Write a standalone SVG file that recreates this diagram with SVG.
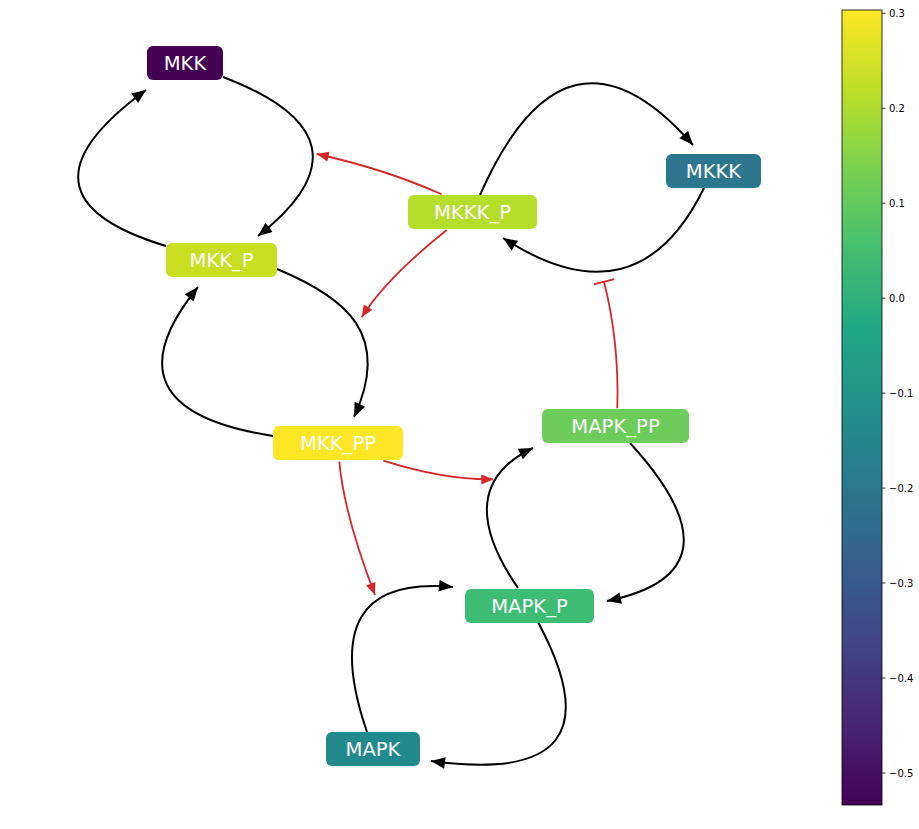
<svg xmlns="http://www.w3.org/2000/svg" width="919" height="829" viewBox="0 0 919 829">
<style>
.e{fill:none;stroke:#000;stroke-width:2}
.r{fill:none;stroke:#d62728;stroke-width:1.8}
.nt{font-family:"DejaVu Sans",sans-serif;font-size:19.6px;fill:#fff;text-anchor:middle}
.tk{font-family:"DejaVu Sans",sans-serif;font-size:10px;fill:#000}
.tl{stroke:#000;stroke-width:0.8}
</style>
<defs>
<marker id="ab" markerUnits="userSpaceOnUse" markerWidth="16" markerHeight="14" refX="14" refY="6" orient="auto" overflow="visible"><path d="M0,0.2 L14,6 L0,11.8 z" fill="#000"/></marker>
<marker id="ar" markerUnits="userSpaceOnUse" markerWidth="14" markerHeight="12" refX="12" refY="5" orient="auto" overflow="visible"><path d="M0,0 L12,5 L0,10 z" fill="#d62728"/></marker>
<linearGradient id="vir" x1="0" y1="1" x2="0" y2="0">
<stop offset="0" stop-color="#440154"/>
<stop offset="0.1" stop-color="#482475"/>
<stop offset="0.2" stop-color="#414487"/>
<stop offset="0.3" stop-color="#355f8d"/>
<stop offset="0.4" stop-color="#2a788e"/>
<stop offset="0.5" stop-color="#21918c"/>
<stop offset="0.6" stop-color="#22a884"/>
<stop offset="0.7" stop-color="#44bf70"/>
<stop offset="0.8" stop-color="#7ad151"/>
<stop offset="0.9" stop-color="#bddf26"/>
<stop offset="1" stop-color="#fde725"/>
</linearGradient>
</defs>
<rect width="919" height="829" fill="#fff"/>
<g id="edges">
<path class="e" d="M223,77 Q383,138 258,236" marker-end="url(#ab)"/>
<path class="e" d="M166,246 Q1,196 146,90" marker-end="url(#ab)"/>
<path class="e" d="M277,269 C347,298 392,335 354,417" marker-end="url(#ab)"/>
<path class="e" d="M273,436 Q99,409 198,287" marker-end="url(#ab)"/>
<path class="e" d="M480,195 Q566,0 693,145" marker-end="url(#ab)"/>
<path class="e" d="M704,188 Q637,325 503,238" marker-end="url(#ab)"/>
<path class="e" d="M630,443 Q748,572 607,601" marker-end="url(#ab)"/>
<path class="e" d="M518,588 Q449,488 533,448" marker-end="url(#ab)"/>
<path class="e" d="M538,622 Q627,788 431,761" marker-end="url(#ab)"/>
<path class="e" d="M367,732 Q313,574 453,587" marker-end="url(#ab)"/>
<path class="r" d="M441.7,194.3 Q385,169 316.7,154" marker-end="url(#ar)"/>
<path class="r" d="M446.7,230 Q385.8,278.7 361.7,317.3" marker-end="url(#ar)"/>
<path class="r" d="M383.3,460.7 Q443.7,480 493.3,479.3" marker-end="url(#ar)"/>
<path class="r" d="M339.3,461.7 Q343.9,513.9 375,595" marker-end="url(#ar)"/>
<path class="r" d="M617.3,408.3 Q619.3,341.6 604,281.7"/>
<line class="r" x1="593.8" y1="284.3" x2="614.2" y2="279.1"/>
</g>
<g id="MKK"><rect x="147" y="46" width="76" height="34" rx="6" fill="#440154"/><text class="nt" x="185" y="70">MKK</text></g>
<g id="MKK_P"><rect x="166" y="243" width="111" height="34" rx="6" fill="#c8e020"/><text class="nt" x="221.5" y="267">MKK_P</text></g>
<g id="MKKK_P"><rect x="408" y="195" width="129" height="34" rx="6" fill="#b5de2b"/><text class="nt" x="472.5" y="219">MKKK_P</text></g>
<g id="MKKK"><rect x="666" y="154" width="95" height="34" rx="6" fill="#2c778e"/><text class="nt" x="713.5" y="178">MKKK</text></g>
<g id="MKK_PP"><rect x="273" y="426" width="130" height="34" rx="6" fill="#fde725"/><text class="nt" x="338" y="450">MKK_PP</text></g>
<g id="MAPK_PP"><rect x="542" y="409" width="147" height="34" rx="6" fill="#6ccd5a"/><text class="nt" x="615.5" y="433">MAPK_PP</text></g>
<g id="MAPK_P"><rect x="465" y="589" width="129" height="34" rx="6" fill="#3dbc74"/><text class="nt" x="529.5" y="613">MAPK_P</text></g>
<g id="MAPK"><rect x="326" y="732" width="94" height="34" rx="6" fill="#228a8d"/><text class="nt" x="373" y="756">MAPK</text></g>
<g id="colorbar">
<rect x="842" y="10" width="40" height="795" fill="url(#vir)" stroke="#000" stroke-width="0.8"/>
<line class="tl" x1="882" y1="13.3" x2="885.5" y2="13.3"/>
<line class="tl" x1="882" y1="108.3" x2="885.5" y2="108.3"/>
<line class="tl" x1="882" y1="203.2" x2="885.5" y2="203.2"/>
<line class="tl" x1="882" y1="298.2" x2="885.5" y2="298.2"/>
<line class="tl" x1="882" y1="393.1" x2="885.5" y2="393.1"/>
<line class="tl" x1="882" y1="488.1" x2="885.5" y2="488.1"/>
<line class="tl" x1="882" y1="583" x2="885.5" y2="583"/>
<line class="tl" x1="882" y1="678" x2="885.5" y2="678"/>
<line class="tl" x1="882" y1="773" x2="885.5" y2="773"/>
<text class="tk" x="889" y="17">0.3</text>
<text class="tk" x="889" y="112">0.2</text>
<text class="tk" x="889" y="207">0.1</text>
<text class="tk" x="889" y="302">0.0</text>
<text class="tk" x="889" y="397">−0.1</text>
<text class="tk" x="889" y="492">−0.2</text>
<text class="tk" x="889" y="587">−0.3</text>
<text class="tk" x="889" y="682">−0.4</text>
<text class="tk" x="889" y="777">−0.5</text>
</g>
</svg>
